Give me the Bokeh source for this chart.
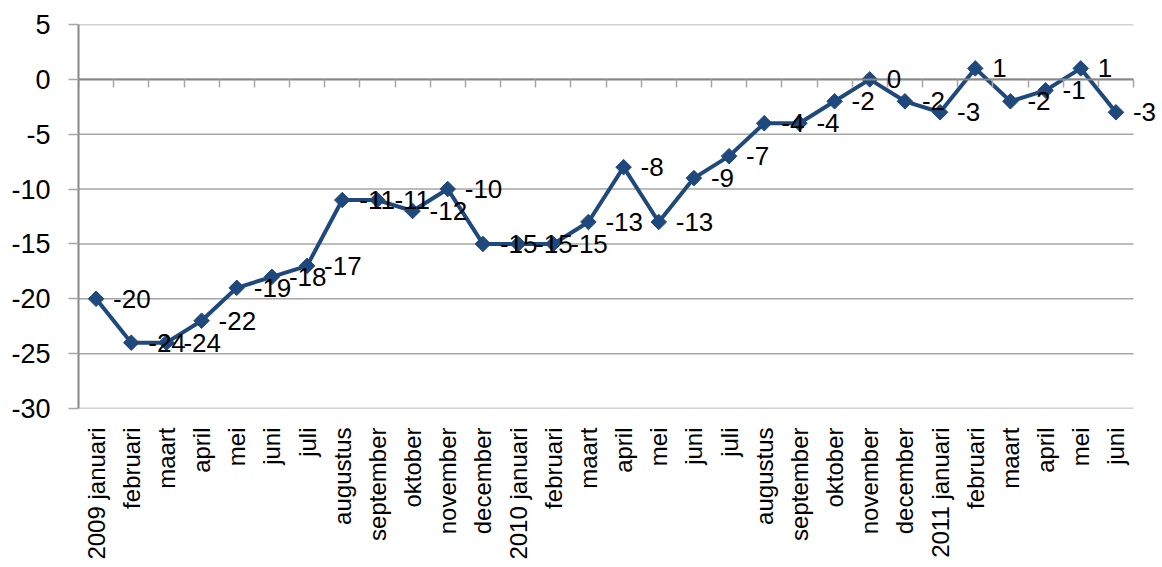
import math
from bokeh.plotting import figure
from bokeh.models import ColumnDataSource, LinearAxis, FixedTicker, Range1d, LabelSet
from bokeh.core.properties import value
from bokeh.embed import file_html
from bokeh.resources import INLINE

months = ["2009 januari", "februari", "maart", "april", "mei", "juni", "juli",
          "augustus", "september", "oktober", "november", "december",
          "2010 januari", "februari", "maart", "april", "mei", "juni", "juli",
          "augustus", "september", "oktober", "november", "december",
          "2011 januari", "februari", "maart", "april", "mei", "juni"]
values = [-20, -24, -24, -22, -19, -18, -17, -11, -11, -12, -10, -15,
          -15, -15, -13, -8, -13, -9, -7, -4, -4, -2, 0, -2,
          -3, 1, -2, -1, 1, -3]
y_ticks = [-30, -25, -20, -15, -10, -5, 0, 5]

FONT = "Liberation Sans"
BLUE = "#1f497d"
GRID = "#a6a6a6"
AXIS = "#868686"

n = len(months)
idx = list(range(n))
src = ColumnDataSource(dict(x=idx, y=values, label=[str(v) for v in values]))

# plot area: categories occupy 1055 px, extra room on the right for the last label
cat_px = 1055
frame_w = 1084
x_end = -0.5 + n * frame_w / cat_px

p = figure(frame_width=frame_w, frame_height=384,
           x_range=Range1d(-0.5, x_end), y_range=Range1d(y_ticks[0], y_ticks[-1]),
           output_backend="svg", toolbar_location=None,
           x_axis_type=None, y_axis_type=None,
           min_border_left=78, min_border_top=24, min_border_right=0, min_border_bottom=159)
p.outline_line_color = None
p.background_fill_color = "white"
p.border_fill_color = "white"
p.xgrid.grid_line_color = None
p.ygrid.grid_line_color = None

# horizontal gridlines over the category span
grid_src = ColumnDataSource(dict(x0=[-0.5] * len(y_ticks), x1=[n - 0.5] * len(y_ticks),
                                 y=y_ticks))
p.segment(x0="x0", x1="x1", y0="y", y1="y", source=grid_src,
          line_color=GRID, line_width=1.5)

# y axis
yax = LinearAxis(ticker=FixedTicker(ticks=y_ticks),
                 major_label_overrides={t: str(t) for t in y_ticks})
yax.axis_line_color = AXIS
yax.axis_line_width = 2
yax.major_tick_line_color = GRID
yax.major_tick_line_width = 1.5
yax.major_tick_in = 0
yax.major_tick_out = 10
yax.minor_tick_line_color = None
yax.major_label_standoff = 18
yax.major_label_text_font = FONT
yax.major_label_text_font_size = "27px"
yax.major_label_text_color = "black"
p.add_layout(yax, "left")

# category label axis at bottom
xax = LinearAxis(ticker=FixedTicker(ticks=idx),
                 major_label_overrides={i: m for i, m in enumerate(months)})
xax.axis_line_color = None
xax.major_tick_line_color = None
xax.minor_tick_line_color = None
xax.major_tick_in = 0
xax.major_tick_out = 0
xax.major_label_orientation = math.pi / 2
xax.major_label_standoff = 19
xax.major_label_text_font = FONT
xax.major_label_text_font_size = "24px"
xax.major_label_text_color = "black"
p.add_layout(xax, "below")

# category axis line at y = 0 with boundary ticks
zax = LinearAxis(fixed_location=0, bounds=(-0.5, n - 0.5),
                 ticker=FixedTicker(ticks=[i - 0.5 for i in range(n + 1)]),
                 major_label_overrides={i - 0.5: "" for i in range(n + 1)})
zax.axis_line_color = AXIS
zax.axis_line_width = 2
zax.major_tick_line_color = GRID
zax.major_tick_line_width = 1.5
zax.major_tick_in = 0
zax.major_tick_out = 8
zax.minor_tick_line_color = None
zax.major_label_text_font_size = "0px"
p.add_layout(zax, "below")

p.line("x", "y", source=src, line_color=BLUE, line_width=4)
p.scatter("x", "y", source=src, marker="square", angle=math.pi / 4, size=11,
          fill_color=BLUE, line_color=BLUE)
labels = LabelSet(x="x", y="y", text="label", source=src, x_offset=17, y_offset=0,
                  text_baseline="middle", text_align="left",
                  text_font=value(FONT), text_font_size=value("26px"),
                  text_color="black")
p.add_layout(labels)

open("out.html", "w").write(file_html(p, INLINE))
